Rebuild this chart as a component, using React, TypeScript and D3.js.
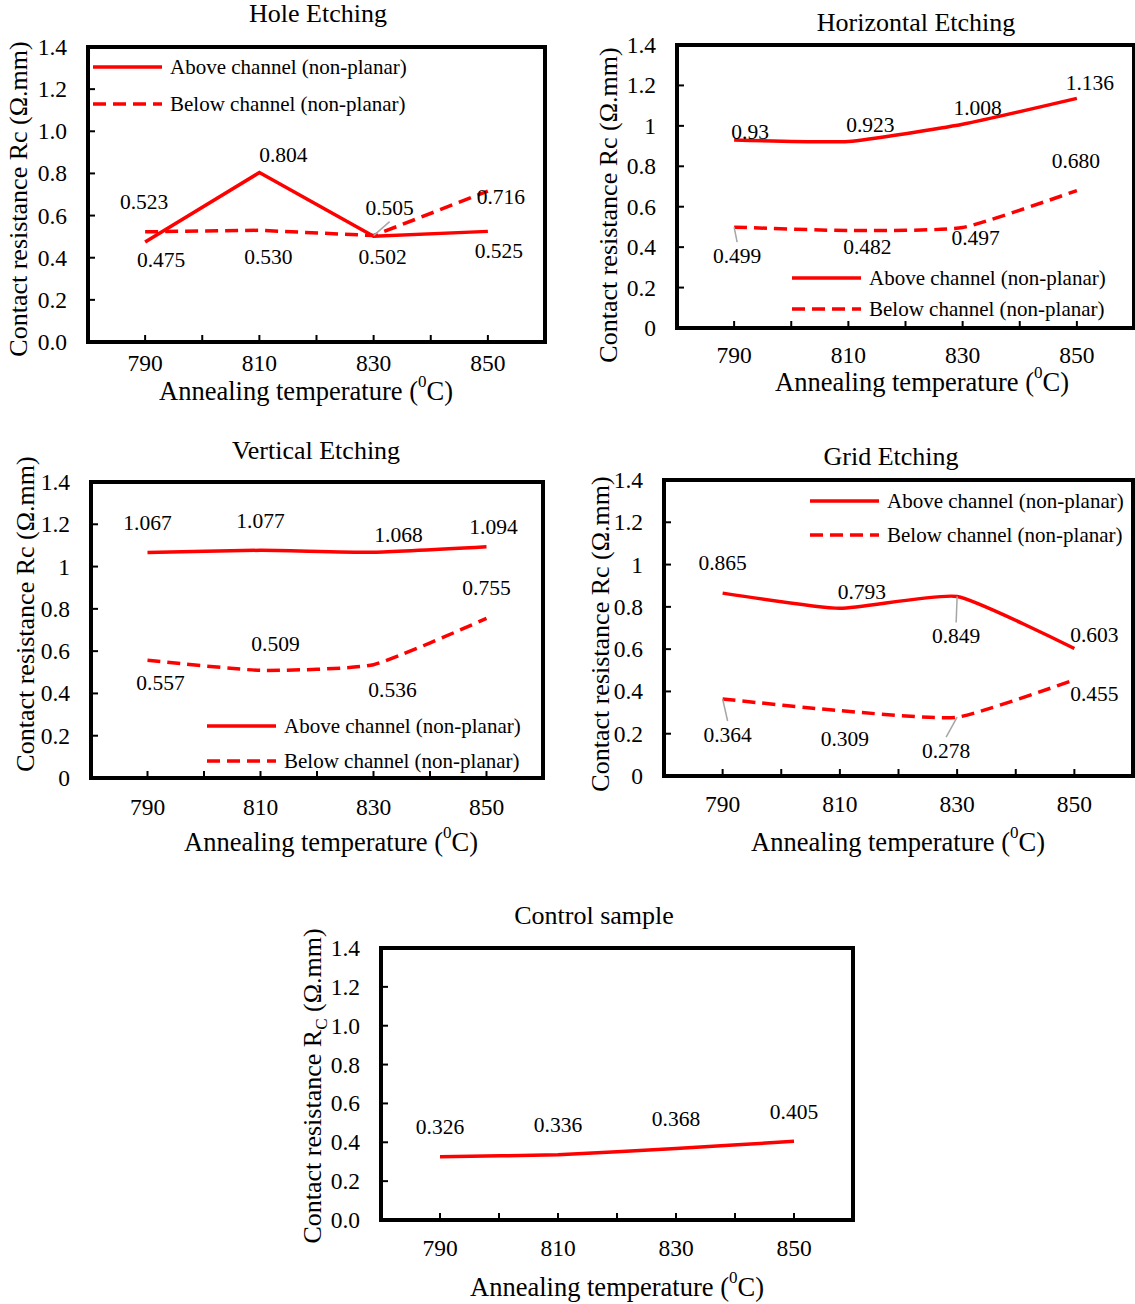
import React from 'react';
import * as d3 from 'd3';

const temps = [790, 810, 830, 850];
const xTicks = [790, 800, 810, 820, 830, 840, 850];
const yTicks = [0, 0.2, 0.4, 0.6, 0.8, 1.0, 1.2, 1.4];

const holeAbove = [0.475, 0.804, 0.502, 0.525];
const holeBelow = [0.523, 0.53, 0.505, 0.716];
const horizAbove = [0.93, 0.923, 1.008, 1.136];
const horizBelow = [0.499, 0.482, 0.497, 0.68];
const vertAbove = [1.067, 1.077, 1.068, 1.094];
const vertBelow = [0.557, 0.509, 0.536, 0.755];
const gridAbove = [0.865, 0.793, 0.849, 0.603];
const gridBelow = [0.364, 0.309, 0.278, 0.455];
const control = [0.326, 0.336, 0.368, 0.405];

// printed label text (Excel keeps the typed precision)
const horizAboveText = ['0.93', '0.923', '1.008', '1.136'];

// label offsets from the point [dx, dy, leader]
const holeAboveOff = [[16, 18], [24, -18], [9, 21], [11, 20]];
const holeBelowOff = [[-1, -30], [9, 27], [16, -28, 1], [13, 6]];
const horizAboveOff = [[16, -8], [22, -16], [15, -16], [13, -15]];
const horizBelowOff = [[3, 29, 1], [19, 16], [13, 10], [-1, -30]];
const vertAboveOff = [[0, -29], [0, -29], [25, -17], [7, -20]];
const vertBelowOff = [[13, 23], [15, -26], [19, 25], [0, -30]];
const gridAboveOff = [[0, -30], [22, -16], [-1, 40, 1], [20, -14]];
const gridBelowOff = [[5, 36, 1], [5, 28], [-11, 34, 1], [20, 14]];
const controlOff = [[0, -30], [0, -30], [0, -30], [0, -29]];

const FONT = '"Liberation Serif", "Times New Roman", serif';
const RED = '#ff0000';
const DASH = '13 7';

type Series = { values: number[]; text?: string[]; off: number[][]; dashed: boolean };

type PanelProps = {
  box: [number, number, number, number];
  title: string;
  titlePos: [number, number];
  xTitlePos: [number, number];
  yTitlePos: [number, number];
  series: Series[];
  fmt: (v: number) => string;
  smooth: boolean;
  legend?: number[];
  xLabelDy: number;
  subC?: boolean;
};

const Panel = (p: PanelProps) => {
  const [x0, y0, x1, y1] = p.box;
  const x = d3.scaleLinear().domain([780, 860]).range([x0, x1]);
  const y = d3.scaleLinear().domain([0, 1.4]).range([y1, y0]);
  const line = d3
    .line<number>()
    .x((d, i) => x(temps[i]))
    .y((d) => y(d))
    .curve(p.smooth ? d3.curveCardinal.tension(0.5) : d3.curveLinear);

  return (
    <g fontFamily={FONT} fill="#000">
      <text x={p.titlePos[0]} y={p.titlePos[1]} fontSize={26} textAnchor="middle" dominantBaseline="central">
        {p.title}
      </text>
      {/* ticks */}
      {yTicks.map((t) => (
        <g key={'y' + t}>
          <line x1={x0} x2={x0 + 7} y1={y(t)} y2={y(t)} stroke="#000" strokeWidth={2} />
          <text x={x0 - 21} y={y(t)} fontSize={23.5} textAnchor="end" dominantBaseline="central">
            {p.fmt(t)}
          </text>
        </g>
      ))}
      {xTicks.map((t) => (
        <line key={'x' + t} x1={x(t)} x2={x(t)} y1={y1} y2={y1 - 7} stroke="#000" strokeWidth={2} />
      ))}
      {temps.map((t) => (
        <text key={'xl' + t} x={x(t)} y={y1 + p.xLabelDy} fontSize={23.5} textAnchor="middle" dominantBaseline="central">
          {t}
        </text>
      ))}
      {/* series */}
      {p.series.map((s, si) => (
        <path
          key={'s' + si}
          d={line(s.values) || ''}
          fill="none"
          stroke={RED}
          strokeWidth={3.5}
          strokeDasharray={s.dashed ? DASH : undefined}
        />
      ))}
      {p.series.map((s, si) =>
        s.values.map((v, i) => {
          const px = x(temps[i]);
          const py = y(v);
          const [dx, dy, leader] = s.off[i];
          const lx = px + dx;
          const ly = py + dy;
          return (
            <g key={'l' + si + i}>
              {leader ? (
                <line x1={lx} y1={ly + (dy > 0 ? -14 : 14)} x2={px} y2={py} stroke="#a6a6a6" strokeWidth={1.5} />
              ) : null}
              <text x={lx} y={ly} fontSize={21.5} textAnchor="middle" dominantBaseline="central">
                {s.text ? s.text[i] : v.toFixed(3)}
              </text>
            </g>
          );
        })
      )}
      {/* legend */}
      {p.legend ? (
        <g>
          <line x1={p.legend[0]} x2={p.legend[0] + 69} y1={p.legend[1]} y2={p.legend[1]} stroke={RED} strokeWidth={3.5} />
          <text x={p.legend[0] + 77} y={p.legend[1]} fontSize={21} dominantBaseline="central">
            Above channel (non-planar)
          </text>
          <line
            x1={p.legend[0]}
            x2={p.legend[0] + 69}
            y1={p.legend[1] + p.legend[2]}
            y2={p.legend[1] + p.legend[2]}
            stroke={RED}
            strokeWidth={3.5}
            strokeDasharray={DASH}
          />
          <text x={p.legend[0] + 77} y={p.legend[1] + p.legend[2]} fontSize={21} dominantBaseline="central">
            Below channel (non-planar)
          </text>
        </g>
      ) : null}
      {/* frame */}
      <rect x={x0} y={y0} width={x1 - x0} height={y1 - y0} fill="none" stroke="#000" strokeWidth={4} />
      {/* axis titles */}
      <text x={p.xTitlePos[0]} y={p.xTitlePos[1]} fontSize={26.5} textAnchor="middle" dominantBaseline="central">
        Annealing temperature (<tspan baseline-shift="super" fontSize={17}>0</tspan>C)
      </text>
      <text
        transform={`translate(${p.yTitlePos[0]},${p.yTitlePos[1]}) rotate(-90)`}
        fontSize={26}
        textAnchor="middle"
        dominantBaseline="central"
      >
        {p.subC ? (
          <>
            Contact resistance R<tspan baseline-shift="sub" fontSize={17}>C</tspan> (Ω.mm)
          </>
        ) : (
          'Contact resistance Rc (Ω.mm)'
        )}
      </text>
    </g>
  );
};

const fmtOne = (v: number) => v.toFixed(1);
const fmtGen = (v: number) => d3.format('~g')(Number(v.toFixed(1)));

export default function App() {
  return (
    <svg
      width={1135}
      height={1304}
      style={{ position: 'absolute', left: 0, top: 0, background: '#fff' }}
    >
      <rect width={1135} height={1304} fill="#fff" />
      <Panel
        box={[88, 47, 545, 342]}
        title="Hole Etching"
        titlePos={[318, 13]}
        xTitlePos={[306, 391]}
        yTitlePos={[18, 199]}
        fmt={fmtOne}
        smooth={false}
        legend={[93, 67, 37]}
        xLabelDy={21}
        series={[
          { values: holeAbove, off: holeAboveOff, dashed: false },
          { values: holeBelow, off: holeBelowOff, dashed: true },
        ]}
      />
      <Panel
        box={[677, 45, 1134, 328]}
        title="Horizontal Etching"
        titlePos={[916, 22]}
        xTitlePos={[922, 382]}
        yTitlePos={[608, 205]}
        fmt={fmtGen}
        smooth={true}
        legend={[792, 278, 31]}
        xLabelDy={27}
        series={[
          { values: horizAbove, text: horizAboveText, off: horizAboveOff, dashed: false },
          { values: horizBelow, off: horizBelowOff, dashed: true },
        ]}
      />
      <Panel
        box={[91, 482, 543, 778]}
        title="Vertical Etching"
        titlePos={[316, 450]}
        xTitlePos={[331, 842]}
        yTitlePos={[25, 614]}
        fmt={fmtGen}
        smooth={true}
        legend={[207, 726, 35]}
        xLabelDy={29}
        series={[
          { values: vertAbove, off: vertAboveOff, dashed: false },
          { values: vertBelow, off: vertBelowOff, dashed: true },
        ]}
      />
      <Panel
        box={[664, 480, 1133, 776]}
        title="Grid Etching"
        titlePos={[891, 456]}
        xTitlePos={[898, 842]}
        yTitlePos={[600, 634]}
        fmt={fmtGen}
        smooth={true}
        legend={[810, 501, 34]}
        xLabelDy={28}
        series={[
          { values: gridAbove, off: gridAboveOff, dashed: false },
          { values: gridBelow, off: gridBelowOff, dashed: true },
        ]}
      />
      <Panel
        box={[381, 948, 853, 1220]}
        title="Control sample"
        titlePos={[594, 915]}
        xTitlePos={[617, 1287]}
        yTitlePos={[312, 1086]}
        fmt={fmtOne}
        smooth={true}
        xLabelDy={28}
        subC={true}
        series={[{ values: control, off: controlOff, dashed: false }]}
      />
    </svg>
  );
}
